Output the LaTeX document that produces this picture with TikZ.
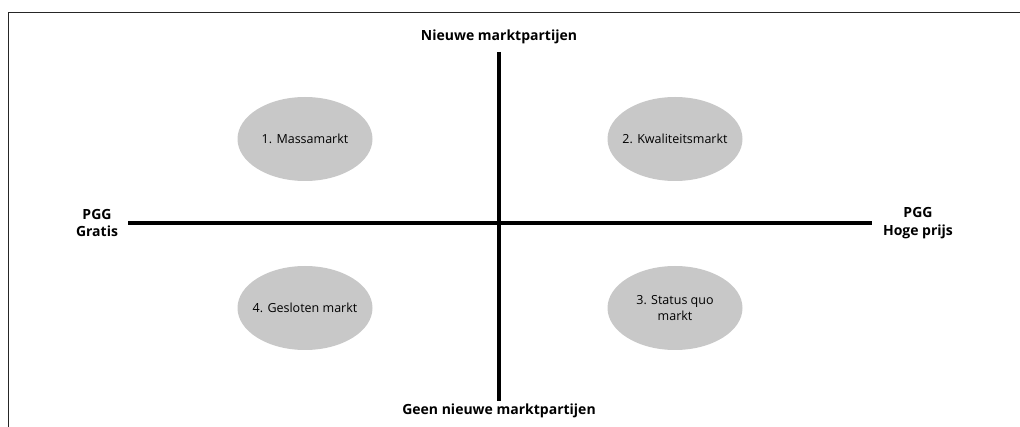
\documentclass[tikz,border=0pt]{standalone}
\usepackage{fontspec}
\setmainfont{Open Sans}
\usetikzlibrary{shapes.geometric}
\definecolor{ellgray}{RGB}{200,200,200}
\tikzset{
  market/.style={ellipse, fill=ellgray, minimum width=135pt, minimum height=84pt, inner sep=0pt},
  markettext/.style={align=center, inner sep=0pt, font=\fontsize{12.5}{16.5}\selectfont},
  axislabel/.style={font=\bfseries\fontsize{14}{17.5}\selectfont, align=center, inner sep=0pt},
  axisline/.style={line width=4pt},
  frameline/.style={line width=1.5pt, draw=black!85}
}
\begin{document}
\begin{tikzpicture}[x=1pt,y=-1pt]
\useasboundingbox (0,0) rectangle (1020,427);
\coordinate (fb) at (8.5,427);
\coordinate (fc) at (8.5,12.5);
\coordinate (fr) at (1020,12.5);
\draw[frameline] (fb) -- (fc) -- (fr);
\coordinate (vt) at (499,52);
\coordinate (vb) at (499,401);
\coordinate (hl) at (128,223);
\coordinate (hr) at (872,223);
\draw[axisline] (vt) -- (vb);
\draw[axisline] (hl) -- (hr);
\node[axislabel] (top) at (499,37) {Nieuwe marktpartijen};
\node[axislabel] (bot) at (499,411) {Geen nieuwe marktpartijen};
\node[axislabel] (left) at (97,223) {PGG\\Gratis};
\node[axislabel] (right) at (918,223) {PGG\\Hoge prijs};
\node[market] (m1) at (305,139) {};
\node[market] (m2) at (675,139) {};
\node[market] (m4) at (305,308) {};
\node[market] (m3) at (675,308) {};
\node[markettext] (t1) at (m1.center) {1. Massamarkt};
\node[markettext] (t2) at (m2.center) {2. Kwaliteitsmarkt};
\node[markettext] (t4) at (m4.center) {4. Gesloten markt};
\node[markettext] (t3) at (m3.center) {3. Status quo\\markt};
\end{tikzpicture}
\end{document}
